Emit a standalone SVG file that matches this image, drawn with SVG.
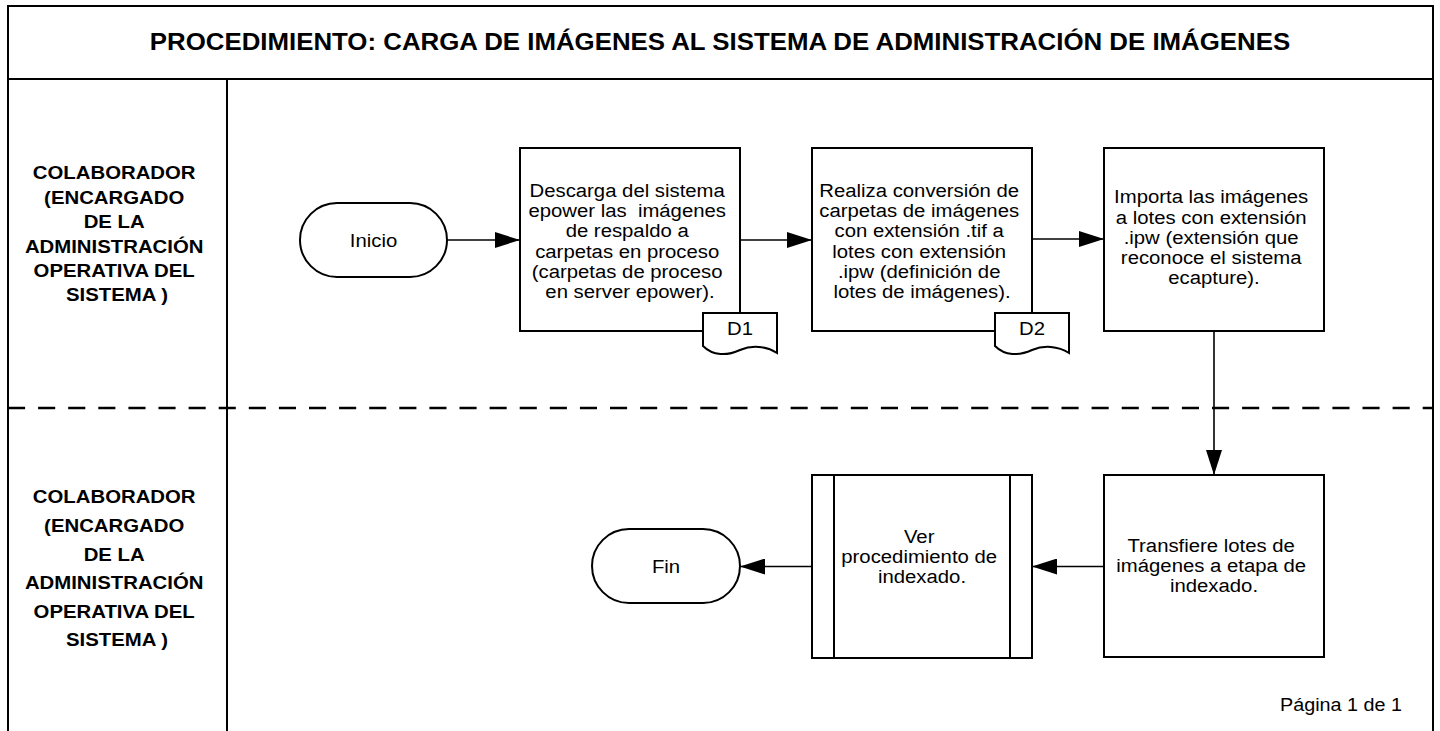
<svg xmlns="http://www.w3.org/2000/svg" width="1440" height="731" viewBox="0 0 1440 731">
<style>
.frame{fill:none;stroke:#000;stroke-width:2}
.shape{fill:#fff;stroke:#000;stroke-width:2}
.conn{fill:none;stroke:#000;stroke-width:1.6}
.t{font-family:"Liberation Sans",Arial,sans-serif;font-size:19px;fill:#000;text-anchor:middle}
.b{font-weight:bold;font-size:18.8px}
.title{font-family:"Liberation Sans",Arial,sans-serif;font-size:23.8px;font-weight:bold;fill:#000;text-anchor:middle}
</style>
<defs>
<marker id="arr" viewBox="0 0 25 16" refX="25" refY="8" markerWidth="25" markerHeight="16" markerUnits="userSpaceOnUse" orient="auto">
<path d="M0,0 L25,8 L0,16 Z" fill="#000"/>
</marker>
</defs>
<rect width="1440" height="731" fill="#fff"/>
<g id="frame">
<path class="frame" d="M8,740 V6 H1433 V740"/>
<line class="frame" x1="8" y1="79" x2="1433" y2="79"/>
<line class="frame" x1="227" y1="79" x2="227" y2="740"/>
<line x1="8" y1="408" x2="1433" y2="408" stroke="#000" stroke-width="2.5" stroke-dasharray="17.1 13"/>
<text class="title" transform="translate(720 0) scale(1.086 1)" x="0" y="50">PROCEDIMIENTO: CARGA DE IMÁGENES AL SISTEMA DE ADMINISTRACIÓN DE IMÁGENES</text>
</g>
<g id="lane1">
<text class="t b" transform="translate(117 0) scale(1.083 1)">
<tspan x="0" y="179.5">COLABORADOR</tspan>
<tspan x="0" y="203.9">(ENCARGADO</tspan>
<tspan x="0" y="228.3">DE LA</tspan>
<tspan x="0" y="252.7">ADMINISTRACIÓN</tspan>
<tspan x="0" y="277.1">OPERATIVA DEL</tspan>
<tspan x="0" y="301.5">SISTEMA )</tspan>
</text>
</g>
<g id="lane2">
<text class="t b" transform="translate(117 0) scale(1.083 1)">
<tspan x="0" y="503.5">COLABORADOR</tspan>
<tspan x="0" y="532.1">(ENCARGADO</tspan>
<tspan x="0" y="560.7">DE LA</tspan>
<tspan x="0" y="589.3">ADMINISTRACIÓN</tspan>
<tspan x="0" y="617.9">OPERATIVA DEL</tspan>
<tspan x="0" y="646.5">SISTEMA )</tspan>
</text>
</g>
<g id="connectors">
<line class="conn" x1="447" y1="240" x2="520" y2="240" marker-end="url(#arr)"/>
<line class="conn" x1="740" y1="240" x2="812" y2="240" marker-end="url(#arr)"/>
<line class="conn" x1="1032" y1="239" x2="1104" y2="239" marker-end="url(#arr)"/>
<line class="conn" x1="1214" y1="331" x2="1214" y2="475" marker-end="url(#arr)"/>
<line class="conn" x1="1104" y1="566.5" x2="1032" y2="566.5" marker-end="url(#arr)"/>
<line class="conn" x1="812" y1="566.5" x2="740" y2="566.5" marker-end="url(#arr)"/>
</g>
<g id="inicio">
<rect class="shape" x="300" y="203" width="147" height="74" rx="37" ry="37"/>
<text class="t" transform="translate(373.5 0) scale(1.07 1)" x="0" y="246.7">Inicio</text>
</g>
<g id="paso1">
<rect class="shape" x="520" y="148" width="220" height="183"/>
<text class="t" transform="translate(630 0) scale(1.07 1)">
<tspan x="0" y="196.7">Descarga del sistema</tspan>
<tspan x="0" y="217">epower las&#160; imágenes</tspan>
<tspan x="0" y="237.3">de respaldo a</tspan>
<tspan x="0" y="257.6">carpetas en proceso</tspan>
<tspan x="0" y="277.9">(carpetas de proceso</tspan>
<tspan x="0" y="298.2">en server epower).</tspan>
</text>
</g>
<g id="d1">
<path class="shape" d="M703,313 H777 V353 C766,346 752,345 740,350 C727,356 713,356 703,346 Z"/>
<text class="t" transform="translate(740 0) scale(1.07 1)" x="0" y="335.5">D1</text>
</g>
<g id="paso2">
<rect class="shape" x="812" y="148" width="220" height="183"/>
<text class="t" transform="translate(922 0) scale(1.07 1)">
<tspan x="0" y="196.7">Realiza conversión de</tspan>
<tspan x="0" y="217">carpetas de imágenes</tspan>
<tspan x="0" y="237.3">con extensión .tif a</tspan>
<tspan x="0" y="257.6">lotes con extensión</tspan>
<tspan x="0" y="277.9">.ipw (definición de</tspan>
<tspan x="0" y="298.2">lotes de imágenes).</tspan>
</text>
</g>
<g id="d2">
<path class="shape" d="M995,313 H1069 V353 C1058,346 1044,345 1032,350 C1019,356 1005,356 995,346 Z"/>
<text class="t" transform="translate(1032 0) scale(1.07 1)" x="0" y="335.5">D2</text>
</g>
<g id="paso3">
<rect class="shape" x="1104" y="148" width="220" height="183"/>
<text class="t" transform="translate(1214 0) scale(1.07 1)">
<tspan x="0" y="203.3">Importa las imágenes</tspan>
<tspan x="0" y="223.6">a lotes con extensión</tspan>
<tspan x="0" y="243.9">.ipw (extensión que</tspan>
<tspan x="0" y="264.2">reconoce el sistema</tspan>
<tspan x="0" y="284.5">ecapture).</tspan>
</text>
</g>
<g id="paso4">
<rect class="shape" x="1104" y="475" width="220" height="182"/>
<text class="t" transform="translate(1214 0) scale(1.07 1)">
<tspan x="0" y="551.7">Transfiere lotes de</tspan>
<tspan x="0" y="571.7">imágenes a etapa de</tspan>
<tspan x="0" y="591.7">indexado.</tspan>
</text>
</g>
<g id="subproceso">
<rect class="shape" x="812" y="475" width="220" height="183"/>
<line class="frame" x1="834" y1="475" x2="834" y2="658"/>
<line class="frame" x1="1010" y1="475" x2="1010" y2="658"/>
<text class="t" transform="translate(922 0) scale(1.07 1)">
<tspan x="0" y="543">Ver</tspan>
<tspan x="0" y="563">procedimiento de</tspan>
<tspan x="0" y="583">indexado.</tspan>
</text>
</g>
<g id="fin">
<rect class="shape" x="592" y="529" width="148" height="74" rx="37" ry="37"/>
<text class="t" transform="translate(666 0) scale(1.07 1)" x="0" y="572.7">Fin</text>
</g>
<g id="pagina">
<text class="t" transform="translate(1341 0) scale(1.07 1)" x="0" y="710.7" style="font-size:18.5px">Página 1 de 1</text>
</g>
</svg>
